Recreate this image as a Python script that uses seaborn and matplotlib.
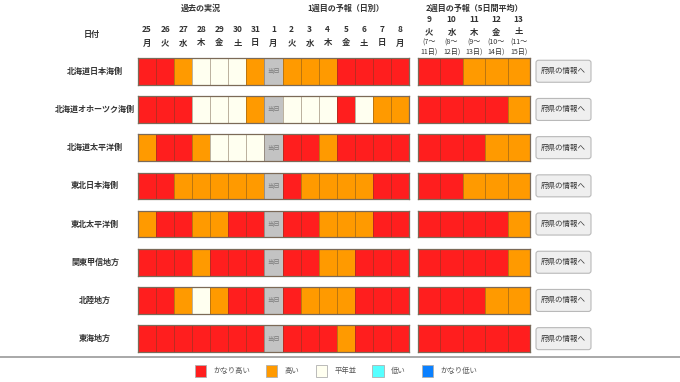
import matplotlib
matplotlib.use('Agg')
import matplotlib.pyplot as plt
import matplotlib.transforms as mtransforms
import seaborn as sns
import numpy as np
from matplotlib.colors import ListedColormap
from matplotlib.patches import Patch, FancyBboxPatch
from matplotlib.lines import Line2D

# ---- data -------------------------------------------------------------
regions = ['北海道日本海側', '北海道オホーツク海側', '北海道太平洋側', '東北日本海側',
           '東北太平洋側', '関東甲信地方', '北陸地方', '東海地方']

past_days = ['25', '26', '27', '28', '29', '30', '31']
past_wd = ['月', '火', '水', '木', '金', '土', '日']
today_day = '1'
today_wd = '月'
week1_days = ['2', '3', '4', '5', '6', '7', '8']
week1_wd = ['火', '水', '木', '金', '土', '日', '月']
week2_days = ['9', '10', '11', '12', '13']
week2_wd = ['火', '水', '木', '金', '土']
week2_from = ['(7〜', '(8〜', '(9〜', '(10〜', '(11〜']
week2_to = ['11日)', '12日)', '13日)', '14日)', '15日)']

levels = ['かなり高い', '高い', '平年並', '低い', 'かなり低い']
level_colors = ['#ff1e1e', '#ff9a00', '#fffff0', '#55ffff', '#0a80ff']
today_color = '#c3c3c3'
TODAY = 5

# codes: 0=かなり高い 1=高い 2=平年並 3=低い 4=かなり低い
past = [
    [0, 0, 1, 2, 2, 2, 1],
    [0, 0, 0, 2, 2, 2, 1],
    [1, 0, 0, 1, 2, 2, 2],
    [0, 0, 1, 1, 1, 1, 1],
    [1, 0, 0, 1, 1, 0, 0],
    [0, 0, 0, 1, 0, 0, 0],
    [0, 0, 1, 2, 1, 0, 0],
    [0, 0, 0, 0, 0, 0, 0],
]
week1 = [
    [1, 1, 1, 0, 0, 0, 0],
    [2, 2, 2, 0, 2, 1, 1],
    [0, 0, 1, 0, 0, 0, 0],
    [0, 1, 1, 1, 1, 0, 0],
    [0, 0, 1, 1, 1, 0, 0],
    [0, 0, 1, 1, 0, 0, 0],
    [0, 1, 1, 1, 0, 0, 0],
    [0, 0, 0, 1, 0, 0, 0],
]
week2 = [
    [0, 0, 1, 1, 1],
    [0, 0, 0, 0, 1],
    [0, 0, 0, 1, 1],
    [0, 0, 1, 1, 1],
    [0, 0, 0, 0, 1],
    [0, 0, 0, 0, 1],
    [0, 0, 0, 1, 1],
    [0, 0, 0, 0, 0],
]

# ---- layout (pixels) --------------------------------------------------
W, H = 680, 382
main_l, main_r = 138, 409
wk2_l, wk2_r = 418, 530
row_top, row_h, row_pitch = 58, 26.5, 38.2
text_col = '#333333'
edge_col = (0.35, 0.25, 0.15, 0.4)

sns.set_theme(style='white')
plt.rcParams['font.family'] = ['Noto Sans CJK JP', 'DejaVu Sans']

fig = plt.figure(figsize=(W / 100, H / 100), dpi=100)
fig.patch.set_facecolor('white')
cmap = ListedColormap(level_colors + [today_color])


def rect(l, r, top, h):
    return [l / W, 1 - (top + h) / H, (r - l) / W, h / H]


def yin(y):
    # pixel y from top -> inches from bottom
    return (H - y) / 100


def cell_block(ax, values, annot=None):
    data = np.array([values])
    sns.heatmap(data, ax=ax, cmap=cmap, vmin=-0.5, vmax=5.5, cbar=False,
                linewidths=0.5, linecolor=edge_col, xticklabels=False,
                yticklabels=False, annot=annot, fmt='',
                annot_kws={'fontsize': 4.6, 'color': '#7a7a7a'})
    for s in ax.spines.values():
        s.set_visible(True)
        s.set_color('#7b6a58')
        s.set_linewidth(0.9)


top_main = None
top_wk2 = None
for i, name in enumerate(regions):
    top = row_top + i * row_pitch
    ax_m = fig.add_axes(rect(main_l, main_r, top, row_h))
    vals = past[i] + [TODAY] + week1[i]
    annot = np.array([['' for _ in vals]], dtype=object)
    annot[0, len(past[i])] = '当日'
    cell_block(ax_m, vals, annot)
    ax_w = fig.add_axes(rect(wk2_l, wk2_r, top, row_h))
    cell_block(ax_w, week2[i])
    if i == 0:
        top_main, top_wk2 = ax_m, ax_w

    yc = yin(top + row_h / 2)
    fig.text(95 / 100, yc, name, transform=fig.dpi_scale_trans, ha='center',
             va='center', fontsize=5.8, fontweight='bold', color=text_col)
    # button
    btn = FancyBboxPatch((536 / 100, yin(top + row_h / 2 + 11)), 55 / 100, 22 / 100,
                         boxstyle='round,pad=0,rounding_size=0.025',
                         transform=fig.dpi_scale_trans, facecolor='#efefef',
                         edgecolor='#b9b9b9', linewidth=0.8)
    fig.add_artist(btn)
    fig.text(563.5 / 100, yc, '府県の情報へ', transform=fig.dpi_scale_trans,
             ha='center', va='center', fontsize=5.4, color='#333333')

# ---- headers ----------------------------------------------------------
tr_m = mtransforms.blended_transform_factory(top_main.transData, fig.dpi_scale_trans)
tr_w = mtransforms.blended_transform_factory(top_wk2.transData, fig.dpi_scale_trans)

fig.text(92 / 100, yin(35), '日付', transform=fig.dpi_scale_trans, ha='center',
         va='center', fontsize=5.8, fontweight='bold', color=text_col)

main_days = past_days + [today_day] + week1_days
main_wd = past_wd + [today_wd] + week1_wd
for j, (d, wd) in enumerate(zip(main_days, main_wd)):
    top_main.text(j + 0.5, yin(29), d, transform=tr_m, ha='center', va='center',
                  fontsize=6.0, fontweight='bold', color=text_col)
    top_main.text(j + 0.5, yin(43), wd, transform=tr_m, ha='center', va='center',
                  fontsize=6.0, fontweight='bold', color=text_col)
for j, d in enumerate(week2_days):
    top_wk2.text(j + 0.5, yin(20), d, transform=tr_w, ha='center', va='center',
                 fontsize=6.0, fontweight='bold', color=text_col)
    top_wk2.text(j + 0.5, yin(32), week2_wd[j], transform=tr_w, ha='center',
                 va='center', fontsize=6.0, fontweight='bold', color=text_col)
    top_wk2.text(j + 0.5, yin(43), week2_from[j], transform=tr_w, ha='center',
                 va='center', fontsize=5.1, color=text_col)
    top_wk2.text(j + 0.5, yin(53), week2_to[j], transform=tr_w, ha='center',
                 va='center', fontsize=5.1, color=text_col)

n_past = len(past_days)
top_main.text(n_past / 2, yin(8), '過去の実況', transform=tr_m, ha='center',
              va='center', fontsize=5.8, fontweight='bold', color=text_col)
top_main.text(n_past + 1 + len(week1_days) / 2, yin(8), '1週目の予報（日別）',
              transform=tr_m, ha='center', va='center', fontsize=5.8,
              fontweight='bold', color=text_col)
top_wk2.text(len(week2_days) / 2, yin(8), '2週目の予報（5日間平均）', transform=tr_w,
             ha='center', va='center', fontsize=5.8, fontweight='bold', color=text_col)

# ---- separator + legend -----------------------------------------------
fig.add_artist(Line2D([0, 1], [1 - 357 / H, 1 - 357 / H], transform=fig.transFigure,
                      color='#9a9a9a', linewidth=1.2))

handles = [Patch(facecolor=c, edgecolor='#b0b0b0', linewidth=0.6, label=l)
           for l, c in zip(levels, level_colors)]
fig.legend(handles=handles, loc='center', bbox_to_anchor=(336 / W, 1 - 371 / H),
           ncol=5, frameon=False, prop={'size': 5.3}, labelcolor='#555555',
           handlelength=1.5, handleheight=1.95, handletextpad=1.0,
           columnspacing=2.2)

fig.savefig('out.png', dpi=100)
